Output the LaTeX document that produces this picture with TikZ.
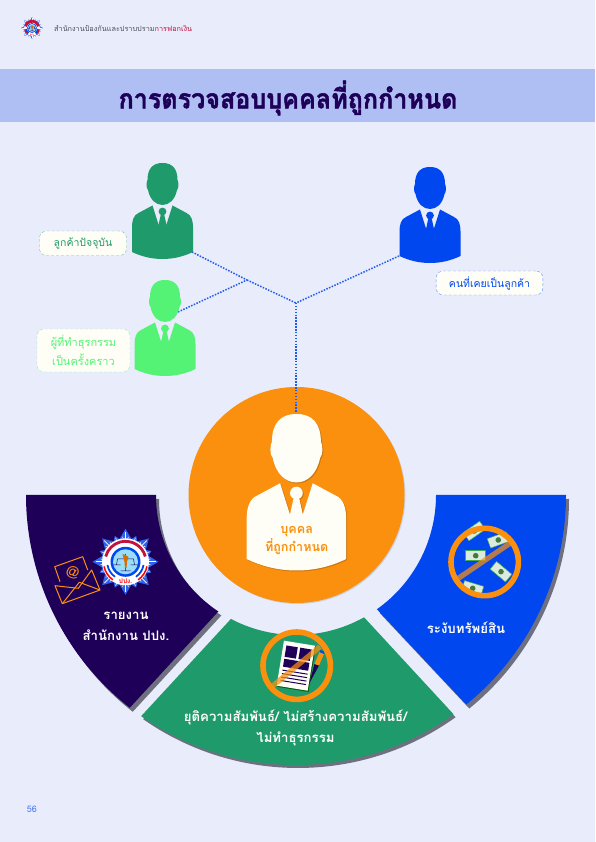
\documentclass[tikz,border=0pt]{standalone}
\usepackage{fontspec}
\setmainfont[Script=Thai]{Loma}
\newfontfamily\headfont[Script=Thai,BoldFeatures={FakeBold=1.6}]{Loma}
\usepackage{xcolor}
\usetikzlibrary{arrows.meta,positioning,shadows}
\definecolor{pagecol}{HTML}{E9ECFB}
\definecolor{bandcol}{HTML}{AFBFF3}
\definecolor{navycol}{HTML}{1E0058}
\definecolor{greencol}{HTML}{1F9A6A}
\definecolor{limecol}{HTML}{55F375}
\definecolor{bluecol}{HTML}{0047F0}
\definecolor{orangecol}{HTML}{FB900F}
\definecolor{creamcol}{HTML}{FEFEF6}
\definecolor{shadecol}{HTML}{6E7080}
\definecolor{redcol}{HTML}{C4123F}
\definecolor{dotcol}{HTML}{1F5CF0}
\definecolor{notecol}{HTML}{DCEBDD}
\definecolor{starcol}{HTML}{2F62EC}
\newcommand{\fanpath}[4]{(#1:270) arc[start angle=#1, end angle=#2, radius=270] -- (#3:140) arc[start angle=#3, end angle=#4, radius=140] -- cycle}

\begin{document}
\begin{tikzpicture}[
  x=1pt, y=1pt,
  tagbox/.style={draw, densely dashed, line width=0.4pt, rounded corners=7pt, fill=creamcol, inner sep=1pt, align=center,
                 font=\fontsize{10.5}{19}\selectfont},
  paneltext/.style={text=white, align=center, font=\bfseries\fontsize{13.2}{20.6}\selectfont},
  dotline/.style={dotcol, line width=1.5pt, dash pattern=on 1.5pt off 1.4pt},
  ring/.style={draw=orangecol, line width=5.6pt},
  slash/.style={draw=orangecol, line width=5.2pt, opacity=0.72},
  env/.style={orangecol, line width=1pt, line join=round},
  pics/man/.style={code={
    \fill[#1] (0,0) .. controls (10,0) and (15,-6) .. (15,-17) .. controls (16.2,-19) and (16.5,-25) .. (14.5,-27)
      .. controls (12.5,-37) and (6.5,-42) .. (0,-42) .. controls (-6.5,-42) and (-12.5,-37) .. (-14.5,-27)
      .. controls (-16.5,-25) and (-16.2,-19) .. (-15,-17) .. controls (-15,-6) and (-10,0) .. (0,0) -- cycle;
    \fill[#1] (-10,-42.5) -- (-4,-61.5) -- (4,-61.5) -- (10,-42.5) -- (24,-50)
      .. controls (29,-52) and (30.5,-58) .. (30.5,-64) -- (30.5,-89)
      .. controls (20,-94) and (10,-96) .. (0,-96) .. controls (-10,-96) and (-20,-94) .. (-30.5,-89)
      -- (-30.5,-64) .. controls (-30.5,-58) and (-29,-52) .. (-24,-50) -- cycle;
    \fill[#1] (0,-48.5) circle[radius=3.9];
    \fill[#1] (-1.8,-52) -- (1.8,-52) -- (4,-62) -- (-4,-62) -- cycle;
  }},
  pics/emblem/.style={code={
    \foreach \a in {0,45,...,315} {
      \fill[starcol, rotate=\a] (0,33) -- (-10,16) -- (10,16) -- cycle;
      \fill[starcol, rotate=\a+22.5] (0,28) -- (-8,16) -- (8,16) -- cycle;
      \draw[white, line width=0.7pt, rotate=\a] (0,30) -- (0,22);
      \draw[white, line width=0.5pt, rotate=\a] (-3,25) -- (-1.5,21) (3,25) -- (1.5,21);
      \draw[white, line width=0.5pt, rotate=\a+22.5] (0,26) -- (0,22);
    }
    \fill[white] (0,0) circle[radius=23.5];
    \draw[redcol, line width=2.8pt] (15:20.5) arc[start angle=15, end angle=165, radius=20.5];
    \draw[red, line width=1.5pt] (192:22) arc[start angle=192, end angle=235, radius=22];
    \draw[red, line width=1.5pt] (348:22) arc[start angle=348, end angle=305, radius=22];
    \draw[bluecol, line width=1.8pt] (190:18.3) arc[start angle=190, end angle=235, radius=18.3];
    \draw[bluecol, line width=1.8pt] (350:18.3) arc[start angle=350, end angle=305, radius=18.3];
    \fill[bluecol] (0,0) circle[radius=15];
    \fill[cyan!40!white] (0,0) circle[radius=12.5];
    \draw[navycol, line width=0.5pt] (-8,3) -- (8,3) (-8,3) -- (-9,-3) (8,3) -- (9,-3) (-12,-3) -- (-5,-3) (12,-3) -- (5,-3) (0,8) -- (0,-9) (-5,-9) -- (5,-9);
    \fill[orange!85!black] (-3,8) -- (3,5) -- (1.5,0) -- (1,-6) -- (-0.5,-6) -- (-1,0) -- cycle;
    \node[transform shape, text=red, inner sep=0pt, font=\bfseries\fontsize{6.5}{7}\selectfont] at (0,-19.5) {ปปง.};
  }},
]

% page and band
\fill[pagecol] (0,0) rectangle (595,842);
\fill[bandcol] (0,720) rectangle (595,773);

% header
\pic[scale=0.33] at (32,814) {emblem};
\node[anchor=west, inner sep=0pt, font=\fontsize{7.3}{8}\selectfont, text=shadecol!70!black] (HEAD) at (54,814) {สำนักงานป้องกันและปราบปราม\textcolor{redcol}{การฟอกเงิน}};
\node[text=navycol, inner sep=0pt, transform shape, xscale=0.93, font=\headfont\bfseries\fontsize{27}{30}\selectfont] (TITLE) at (288,744) {การตรวจสอบบุคคลที่ถูกกำหนด};

% fan shadows and fans
\begin{scope}[shift={(296,347)}]
  \fill[shadecol, shift={(3,-4)}] \fanpath{180}{232}{236.3}{180};
  \fill[shadecol, shift={(2,-3)}] \fanpath{235}{305.7}{299.1}{242.3};
  \fill[shadecol, shift={(3,-4)}] \fanpath{309.1}{360}{360}{305.3};
  \fill[navycol] \fanpath{180}{232}{236.3}{180};
  \fill[greencol] \fanpath{235}{305.7}{299.1}{242.3};
  \fill[bluecol] \fanpath{309.1}{360}{360}{305.3};
\end{scope}

% centre
\node[circle, fill=orangecol, minimum size=216pt, inner sep=0pt,
      drop shadow={opacity=0.25, shadow xshift=1pt, shadow yshift=-1pt}] (CENTER) at (296.5,347) {};

% dotted links
\coordinate (HUB) at (296,539);
\coordinate (JOIN) at (247,562);
\coordinate (CURFOOT) at (192,590);
\coordinate (ONCEHEAD) at (178,530);
\coordinate (PASTFOOT) at (399,586);
\coordinate (MAINHEAD) at (296,429);
\draw[dotline] (CURFOOT) -- (JOIN);
\draw[dotline] (JOIN) -- (HUB);
\draw[dotline] (ONCEHEAD) -- (JOIN);
\draw[dotline] (PASTFOOT) -- (HUB);
\draw[dotline] (HUB) -- (MAINHEAD);

% people
\pic at (162.5,679) {man=greencol};
\pic at (165,562) {man=limecol};
\pic at (430,675) {man=bluecol};
\pic[scale=1.63] at (297.4,427) {man={black,opacity=0.18}};
\pic[scale=1.63] at (296.4,428) {man=creamcol};

% tags
\node[tagbox, draw=greencol!60, text=greencol, minimum width=87pt, minimum height=24.5pt] (CURTAG) at (83,598.7) {ลูกค้าปัจจุบัน};
\node[tagbox, draw=limecol!70, text=limecol, minimum width=93pt, minimum height=43pt, font=\fontsize{11}{19}\selectfont] (ONCETAG) at (83.5,491.5) {ผู้ที่ทำธุรกรรม\\เป็นครั้งคราว};
\node[tagbox, draw=bluecol!60, text=bluecol, minimum width=106.7pt, minimum height=24pt] (PASTTAG) at (489.5,559) {คนที่เคยเป็นลูกค้า};
\node[text=orangecol, align=center, inner sep=0pt, font=\bfseries\fontsize{12.6}{18}\selectfont] (MAINTAG) at (296.7,301) {บุคคล\\ที่ถูกกำหนด};

% report panel
\pic at (125.5,280.2) {emblem};
\draw[env] (55,256.3) -- (62.3,238.3) -- (100,252) -- (91.7,272) -- (78.3,253.7) -- cycle;
\draw[env] (62.3,238.3) -- (79.3,259.7) -- (100,252);
\draw[env] (60,260.3) -- (54.7,275.3) -- (82.7,285.3) -- (87.7,272);
\node[text=orangecol, rotate=-20, inner sep=0pt, font=\fontsize{13}{14}\selectfont] (MAILAT) at (72.7,269.7) {@};
\node[paneltext] (REPTXT) at (126,215.5) {รายงาน\\สำนักงาน ปปง.};

% freeze panel
\foreach \x/\y/\a in {474.3/311/35, 498.3/302/20, 475.7/286.3/0, 501/270.3/-40, 472.7/253.7/-17} {
  \begin{scope}[shift={(\x,\y)}, rotate=\a]
    \fill[notecol] (-10,-5) rectangle (10,5);
    \draw[shadecol!60!green, line width=0.5pt] (-10,-5) rectangle (10,5);
    \fill[green!30!black, opacity=0.7] (0,0) circle[radius=2.8];
  \end{scope}
}
\draw[slash] (458.3,263.7) -- (510,298.7);
\node[circle, ring, minimum size=67.4pt, inner sep=0pt] (FREEZERING) at (484.7,280) {};
\node[paneltext] (FREEZETXT) at (466,214.3) {ระงับทรัพย์สิน};

% stop panel
\begin{scope}[shift={(295.8,176.3)}, rotate=-9.2]
  \fill[green!35!black] (-14.7,-23.8) rectangle (16.7,21.8);
  \fill[creamcol] (-15.7,-22.8) rectangle (15.7,22.8);
  \fill[navycol] (-12.5,7) rectangle (-1,18.5);
  \fill[navycol] (1.5,7) rectangle (13,18.5);
  \fill[navycol] (-12.5,-3) rectangle (13,5);
  \foreach \y in {-6.5,-10,-13.5,-17}
    \draw[navycol, line width=1pt] (-12.5,\y) -- (13,\y);
\end{scope}
\fill[navycol] (309.3,158.7) -- (314.5,178) -- (319,176.5) -- cycle;
\fill[orangecol] (314.5,178) -- (319,176.5) -- (324,188) -- (319.5,190) -- cycle;
\fill[bluecol] (319.5,190) -- (324,188) -- (324.5,190) -- (320.5,192) -- cycle;
\draw[slash] (271.7,155.3) -- (320,195.3);
\node[circle, ring, minimum size=67.4pt, inner sep=0pt] (STOPRING) at (296.7,176.3) {};
\node[paneltext] (STOPTXT) at (295.5,114) {ยุติความสัมพันธ์/ ไม่สร้างความสัมพันธ์/\\ไม่ทำธุรกรรม};

% page number
\node[text=bluecol!70!white, inner sep=0pt, font=\fontsize{9}{11}\selectfont] (PAGENO) at (32,33) {56};

\useasboundingbox (0,0) rectangle (595,842);
\end{tikzpicture}
\end{document}
